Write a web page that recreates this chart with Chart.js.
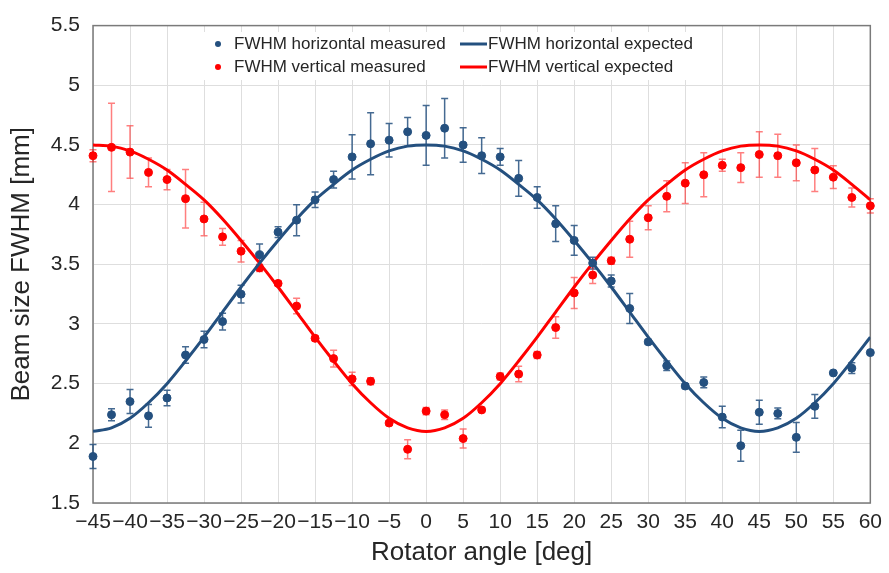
<!DOCTYPE html>
<html>
<head>
<meta charset="utf-8">
<script src="https://cdn.jsdelivr.net/npm/chart.js@4.4.1/dist/chart.umd.min.js"></script>
<style>
  html, body { margin: 0; padding: 0; background: #fff; }
  #wrap { width: 889px; height: 573px; }
</style>
</head>
<body>
<div id="wrap"><canvas id="beamChart" width="889" height="573"></canvas></div>
<script>

// rotator angle [deg], one entry per measurement
const angles = [-45, -42.5, -40, -37.5, -35, -32.5, -30, -27.5, -25, -22.5, -20, -17.5, -15, -12.5, -10, -7.5, -5, -2.5, 0,
  2.5, 5, 7.5, 10, 12.5, 15, 17.5, 20, 22.5, 25, 27.5, 30, 32.5, 35, 37.5, 40, 42.5, 45, 47.5, 50, 52.5, 55, 57.5, 60];

// FWHM horizontal [mm]
const hMeasured = [1.89, 2.24, 2.35, 2.23, 2.38, 2.74, 2.87, 3.02, 3.25, 3.58, 3.77, 3.87, 4.04, 4.21, 4.40, 4.51, 4.54, 4.61, 4.58,
  4.64, 4.50, 4.41, 4.40, 4.22, 4.06, 3.84, 3.70, 3.51, 3.36, 3.13, 2.85, 2.65, 2.48, 2.51, 2.22, 1.98, 2.26, 2.25, 2.05, 2.31, 2.59, 2.63, 2.76];
const hErr = [0.10, 0.05, 0.10, 0.095, 0.065, 0.07, 0.07, 0.07, 0.075, 0.09, 0.045, 0.13, 0.065, 0.07, 0.185, 0.26, 0.14, 0.12, 0.25,
  0.25, 0.145, 0.15, 0.07, 0.15, 0.09, 0.15, 0.125, 0.05, 0.05, 0.125, 0.02, 0.04, 0.02, 0.045, 0.09, 0.13, 0.10, 0.045, 0.125, 0.10, 0, 0.045, 0];
const hExpected = [2.10, 2.13, 2.21, 2.34, 2.50, 2.69, 2.89, 3.10, 3.31, 3.51, 3.70, 3.88, 4.04, 4.17, 4.29, 4.38, 4.45, 4.49, 4.50,
  4.49, 4.45, 4.38, 4.29, 4.17, 4.04, 3.88, 3.70, 3.51, 3.31, 3.10, 2.89, 2.69, 2.50, 2.34, 2.21, 2.13, 2.10, 2.13, 2.21, 2.34, 2.50, 2.69, 2.89];

// FWHM vertical [mm]
const vMeasured = [4.41, 4.48, 4.44, 4.27, 4.21, 4.05, 3.88, 3.73, 3.61, 3.47, 3.34, 3.15, 2.88, 2.71, 2.54, 2.52, 2.17, 1.95, 2.27,
  2.24, 2.04, 2.28, 2.56, 2.58, 2.74, 2.97, 3.26, 3.41, 3.53, 3.71, 3.89, 4.07, 4.18, 4.25, 4.33, 4.31, 4.42, 4.41, 4.35, 4.29, 4.23, 4.06, 3.99];
const vErr = [0.05, 0.37, 0.22, 0.12, 0.085, 0.245, 0.14, 0.07, 0.09, 0.03, 0.02, 0.065, 0.02, 0.07, 0.055, 0.03, 0.02, 0.08, 0.03,
  0.04, 0.08, 0.02, 0.03, 0.065, 0.03, 0.09, 0.13, 0.07, 0.03, 0.15, 0.10, 0.13, 0.17, 0.185, 0.05, 0.125, 0.19, 0.18, 0.15, 0.18, 0.095, 0.08, 0.06];
const vExpected = [4.50, 4.49, 4.45, 4.38, 4.29, 4.17, 4.04, 3.88, 3.70, 3.51, 3.31, 3.10, 2.89, 2.69, 2.50, 2.34, 2.21, 2.13, 2.10,
  2.13, 2.21, 2.34, 2.50, 2.69, 2.89, 3.10, 3.31, 3.51, 3.70, 3.88, 4.04, 4.17, 4.29, 4.38, 4.45, 4.49, 4.50, 4.49, 4.45, 4.38, 4.29, 4.17, 4.04];

const BLUE = '#24507f';
const RED = '#ff0000';
const FONT = '"Liberation Sans", Arial, sans-serif';
const TEXT = '#262626';

function toPoints(ys) {
  return angles.map((a, i) => ({ x: a, y: ys[i] }));
}

// frame round the plot area
const plotFrame = {
  id: 'plotFrame',
  beforeDatasetsDraw(chart) {
    const { ctx, chartArea: a } = chart;
    ctx.save();
    ctx.strokeStyle = '#7a7a7a';
    ctx.lineWidth = 1.5;
    ctx.strokeRect(a.left, a.top, a.right - a.left, a.bottom - a.top);
    ctx.restore();
  }
};

// vertical error bars with small caps, drawn under the points
const errorBars = {
  id: 'errorBars',
  beforeDatasetsDraw(chart) {
    const { ctx, scales: { x, y } } = chart;
    chart.data.datasets.forEach(ds => {
      if (!ds.errors) return;
      ctx.save();
      ctx.strokeStyle = ds.errColor;
      ctx.lineWidth = 1.5;
      ds.data.forEach((p, j) => {
        const e = ds.errors[j];
        if (!e) return;
        const px = x.getPixelForValue(p.x);
        const top = y.getPixelForValue(p.y + e);
        const bot = y.getPixelForValue(p.y - e);
        ctx.beginPath();
        ctx.moveTo(px, top); ctx.lineTo(px, bot);
        ctx.moveTo(px - 3.5, top); ctx.lineTo(px + 3.5, top);
        ctx.moveTo(px - 3.5, bot); ctx.lineTo(px + 3.5, bot);
        ctx.stroke();
      });
      ctx.restore();
    });
  }
};

// two-column legend in a white box inside the plot
const boxLegend = {
  id: 'boxLegend',
  beforeDatasetsDraw(chart) {
    const { ctx } = chart;
    ctx.save();
    ctx.fillStyle = '#fff';
    ctx.fillRect(198, 32, 508, 48);
    ctx.font = '17px ' + FONT;
    ctx.textBaseline = 'middle';
    ctx.textAlign = 'left';
    chart.data.datasets.forEach((ds, i) => {
      const col = i % 2, row = Math.floor(i / 2);
      const cy = 44 + row * 23;
      if (col === 0) {
        ctx.fillStyle = ds.backgroundColor;
        ctx.beginPath();
        ctx.arc(218, cy, 3, 0, Math.PI * 2);
        ctx.fill();
        ctx.fillStyle = TEXT;
        ctx.fillText(ds.label, 234, cy);
      } else {
        ctx.strokeStyle = ds.borderColor;
        ctx.lineWidth = 3;
        ctx.beginPath();
        ctx.moveTo(460, cy); ctx.lineTo(487, cy);
        ctx.stroke();
        ctx.fillStyle = TEXT;
        ctx.fillText(ds.label, 488, cy);
      }
    });
    ctx.restore();
  }
};

const config = {
  type: 'scatter',
  data: {
    datasets: [
      {
        label: 'FWHM horizontal measured',
        data: toPoints(hMeasured),
        errors: hErr,
        errColor: 'rgba(36,80,127,0.85)',
        backgroundColor: BLUE,
        borderColor: BLUE,
        pointRadius: 4,
        clip: false
      },
      {
        type: 'line',
        label: 'FWHM horizontal expected',
        data: toPoints(hExpected),
        borderColor: BLUE,
        backgroundColor: BLUE,
        borderWidth: 3,
        pointRadius: 0,
        cubicInterpolationMode: 'monotone',
        fill: false
      },
      {
        label: 'FWHM vertical measured',
        data: toPoints(vMeasured),
        errors: vErr,
        errColor: 'rgba(255,0,0,0.5)',
        backgroundColor: RED,
        borderColor: RED,
        pointRadius: 4,
        clip: false
      },
      {
        type: 'line',
        label: 'FWHM vertical expected',
        data: toPoints(vExpected),
        borderColor: RED,
        backgroundColor: RED,
        borderWidth: 3,
        pointRadius: 0,
        cubicInterpolationMode: 'monotone',
        fill: false
      }
    ]
  },
  options: {
    responsive: false,
    animation: false,
    devicePixelRatio: 1,
    layout: { padding: { top: 17, right: 12, left: 0, bottom: 0 } },
    plugins: {
      legend: { display: false },
      tooltip: { enabled: false }
    },
    scales: {
      x: {
        type: 'linear',
        min: -45,
        max: 60,
        afterFit: s => { s.height = 70; },
        grid: { color: '#dedede', lineWidth: 1, drawTicks: false },
        border: { display: false },
        ticks: {
          stepSize: 5,
          autoSkip: false,
          maxRotation: 0,
          padding: 7,
          color: TEXT,
          font: { family: FONT, size: 21 },
          callback: v => v < 0 ? '\u2212' + Math.abs(v) : String(v)
        },
        title: {
          display: true,
          text: 'Rotator angle [deg]',
          color: TEXT,
          font: { family: FONT, size: 26 },
          padding: { top: 0, bottom: 5 }
        }
      },
      y: {
        min: 1.5,
        max: 5.5,
        afterFit: s => { s.width = 93; },
        grid: { color: '#dedede', lineWidth: 1, drawTicks: false },
        border: { display: false },
        ticks: {
          stepSize: 0.5,
          padding: 13,
          color: TEXT,
          font: { family: FONT, size: 21 },
          callback: v => String(Math.round(v * 10) / 10)
        },
        title: {
          display: true,
          text: 'Beam size FWHM [mm]',
          color: TEXT,
          font: { family: FONT, size: 26 },
          padding: { top: 6, bottom: 0 }
        }
      }
    }
  },
  plugins: [plotFrame, errorBars, boxLegend]
};

const beamChart = new Chart(document.getElementById('beamChart'), config);
</script>
</body>
</html>
